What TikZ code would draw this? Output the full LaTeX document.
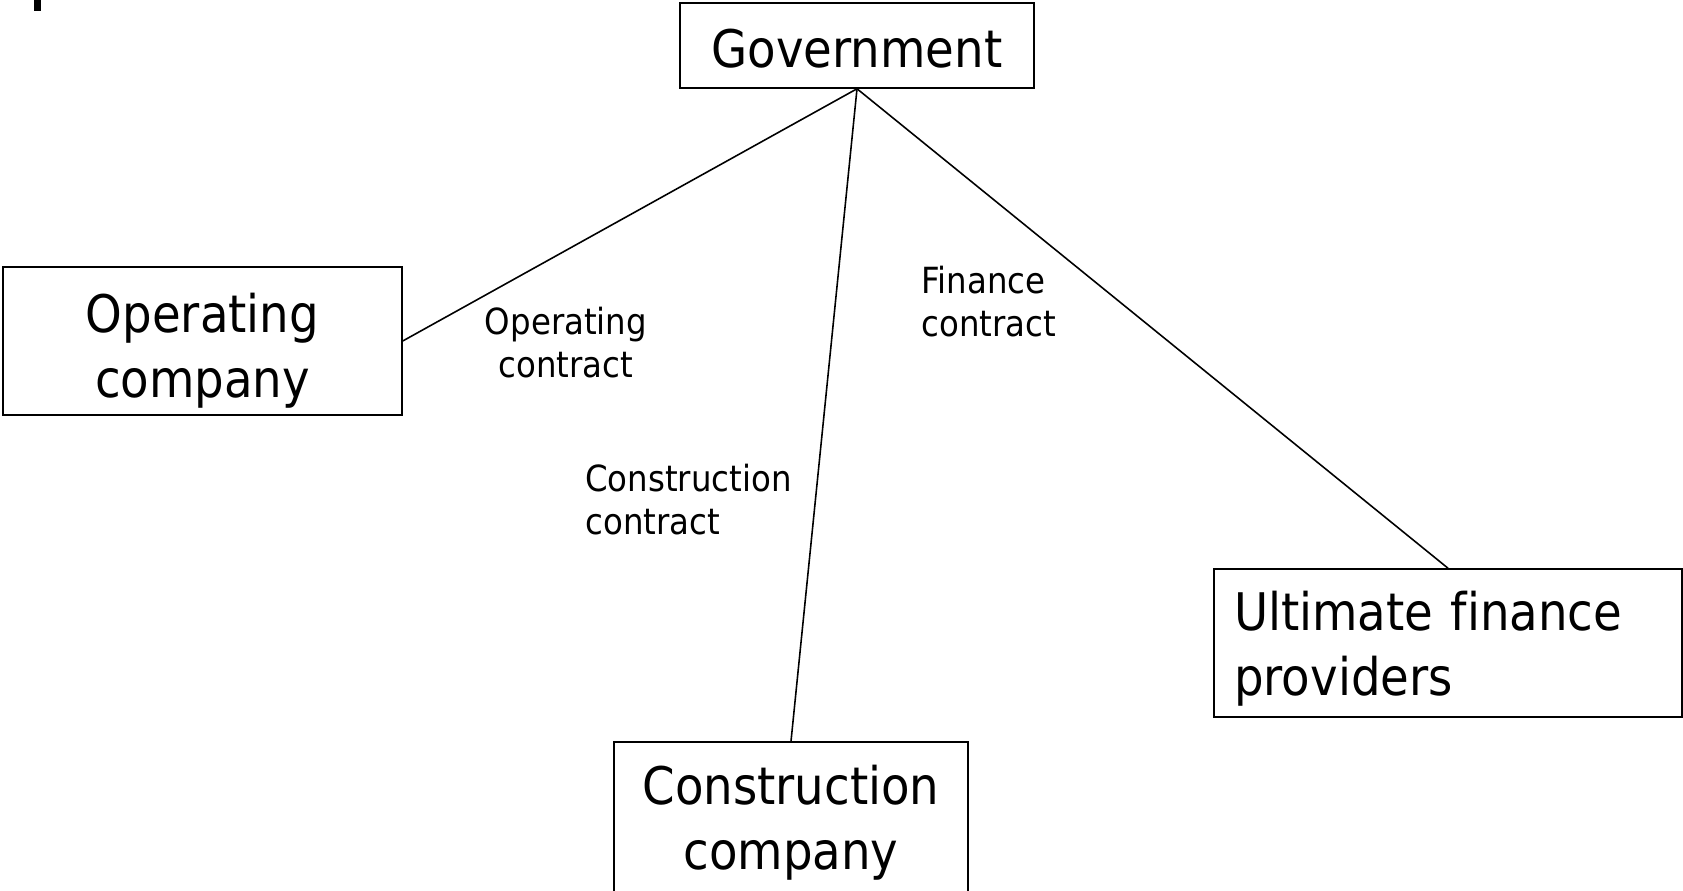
\documentclass[tikz,border=0pt]{standalone}
\usepackage{fontspec}
\setmainfont[FakeStretch=0.9, Ligatures=NoCommon]{DejaVu Sans}
\usepackage{tikz}
\usetikzlibrary{positioning}

\newcommand{\partyfont}{\fontsize{29.5}{37}\selectfont}
\newcommand{\dealfont}{\fontsize{20.5}{24.5}\selectfont}

\begin{document}
\begin{tikzpicture}[
  x=0.02cm, y=-0.02cm,
  party/.style={draw, line width=0.9pt, inner sep=0pt, align=center,
                font=\partyfont, text height=#1},
  deal/.style={inner sep=0pt, font=\dealfont},
  tie/.style={line width=0.9pt},
]

\useasboundingbox (0,0) rectangle (1683,891);

% === Stray mark, top left ===
\fill[black] (34,0) rectangle (41,11);

% === Parties ===
\node[party=25pt, minimum width=7.08cm, minimum height=1.7cm] (gov) at (857,45.5)
  {Government};
\node[party=70pt, minimum width=7.98cm, minimum height=2.96cm] (opco) at (202.5,341)
  {Operating\\company};
\node[party=65pt, minimum width=7.08cm, minimum height=3.04cm] (conco) at (791,818)
  {Construction\\company};
\node[party=29pt, align=left, text width=8.56cm, inner xsep=0.4cm,
      minimum height=2.96cm] (finpro) at (1448,643)
  {Ultimate finance\\providers};

% === Contracts ===
\draw[tie] (gov.south) -- (opco.east);
\draw[tie] (gov.south) -- (conco.north);
\draw[tie] (gov.south) -- (finpro.north);

% === Contract labels ===
\node[deal, align=center] (oplab) at (566,343) {Operating\\contract};
\node[deal, align=left, anchor=west] (finlab) at (921,302) {Finance\\contract};
\node[deal, align=left, anchor=west] (conlab) at (585,500) {Construction\\contract};

\end{tikzpicture}
\end{document}
